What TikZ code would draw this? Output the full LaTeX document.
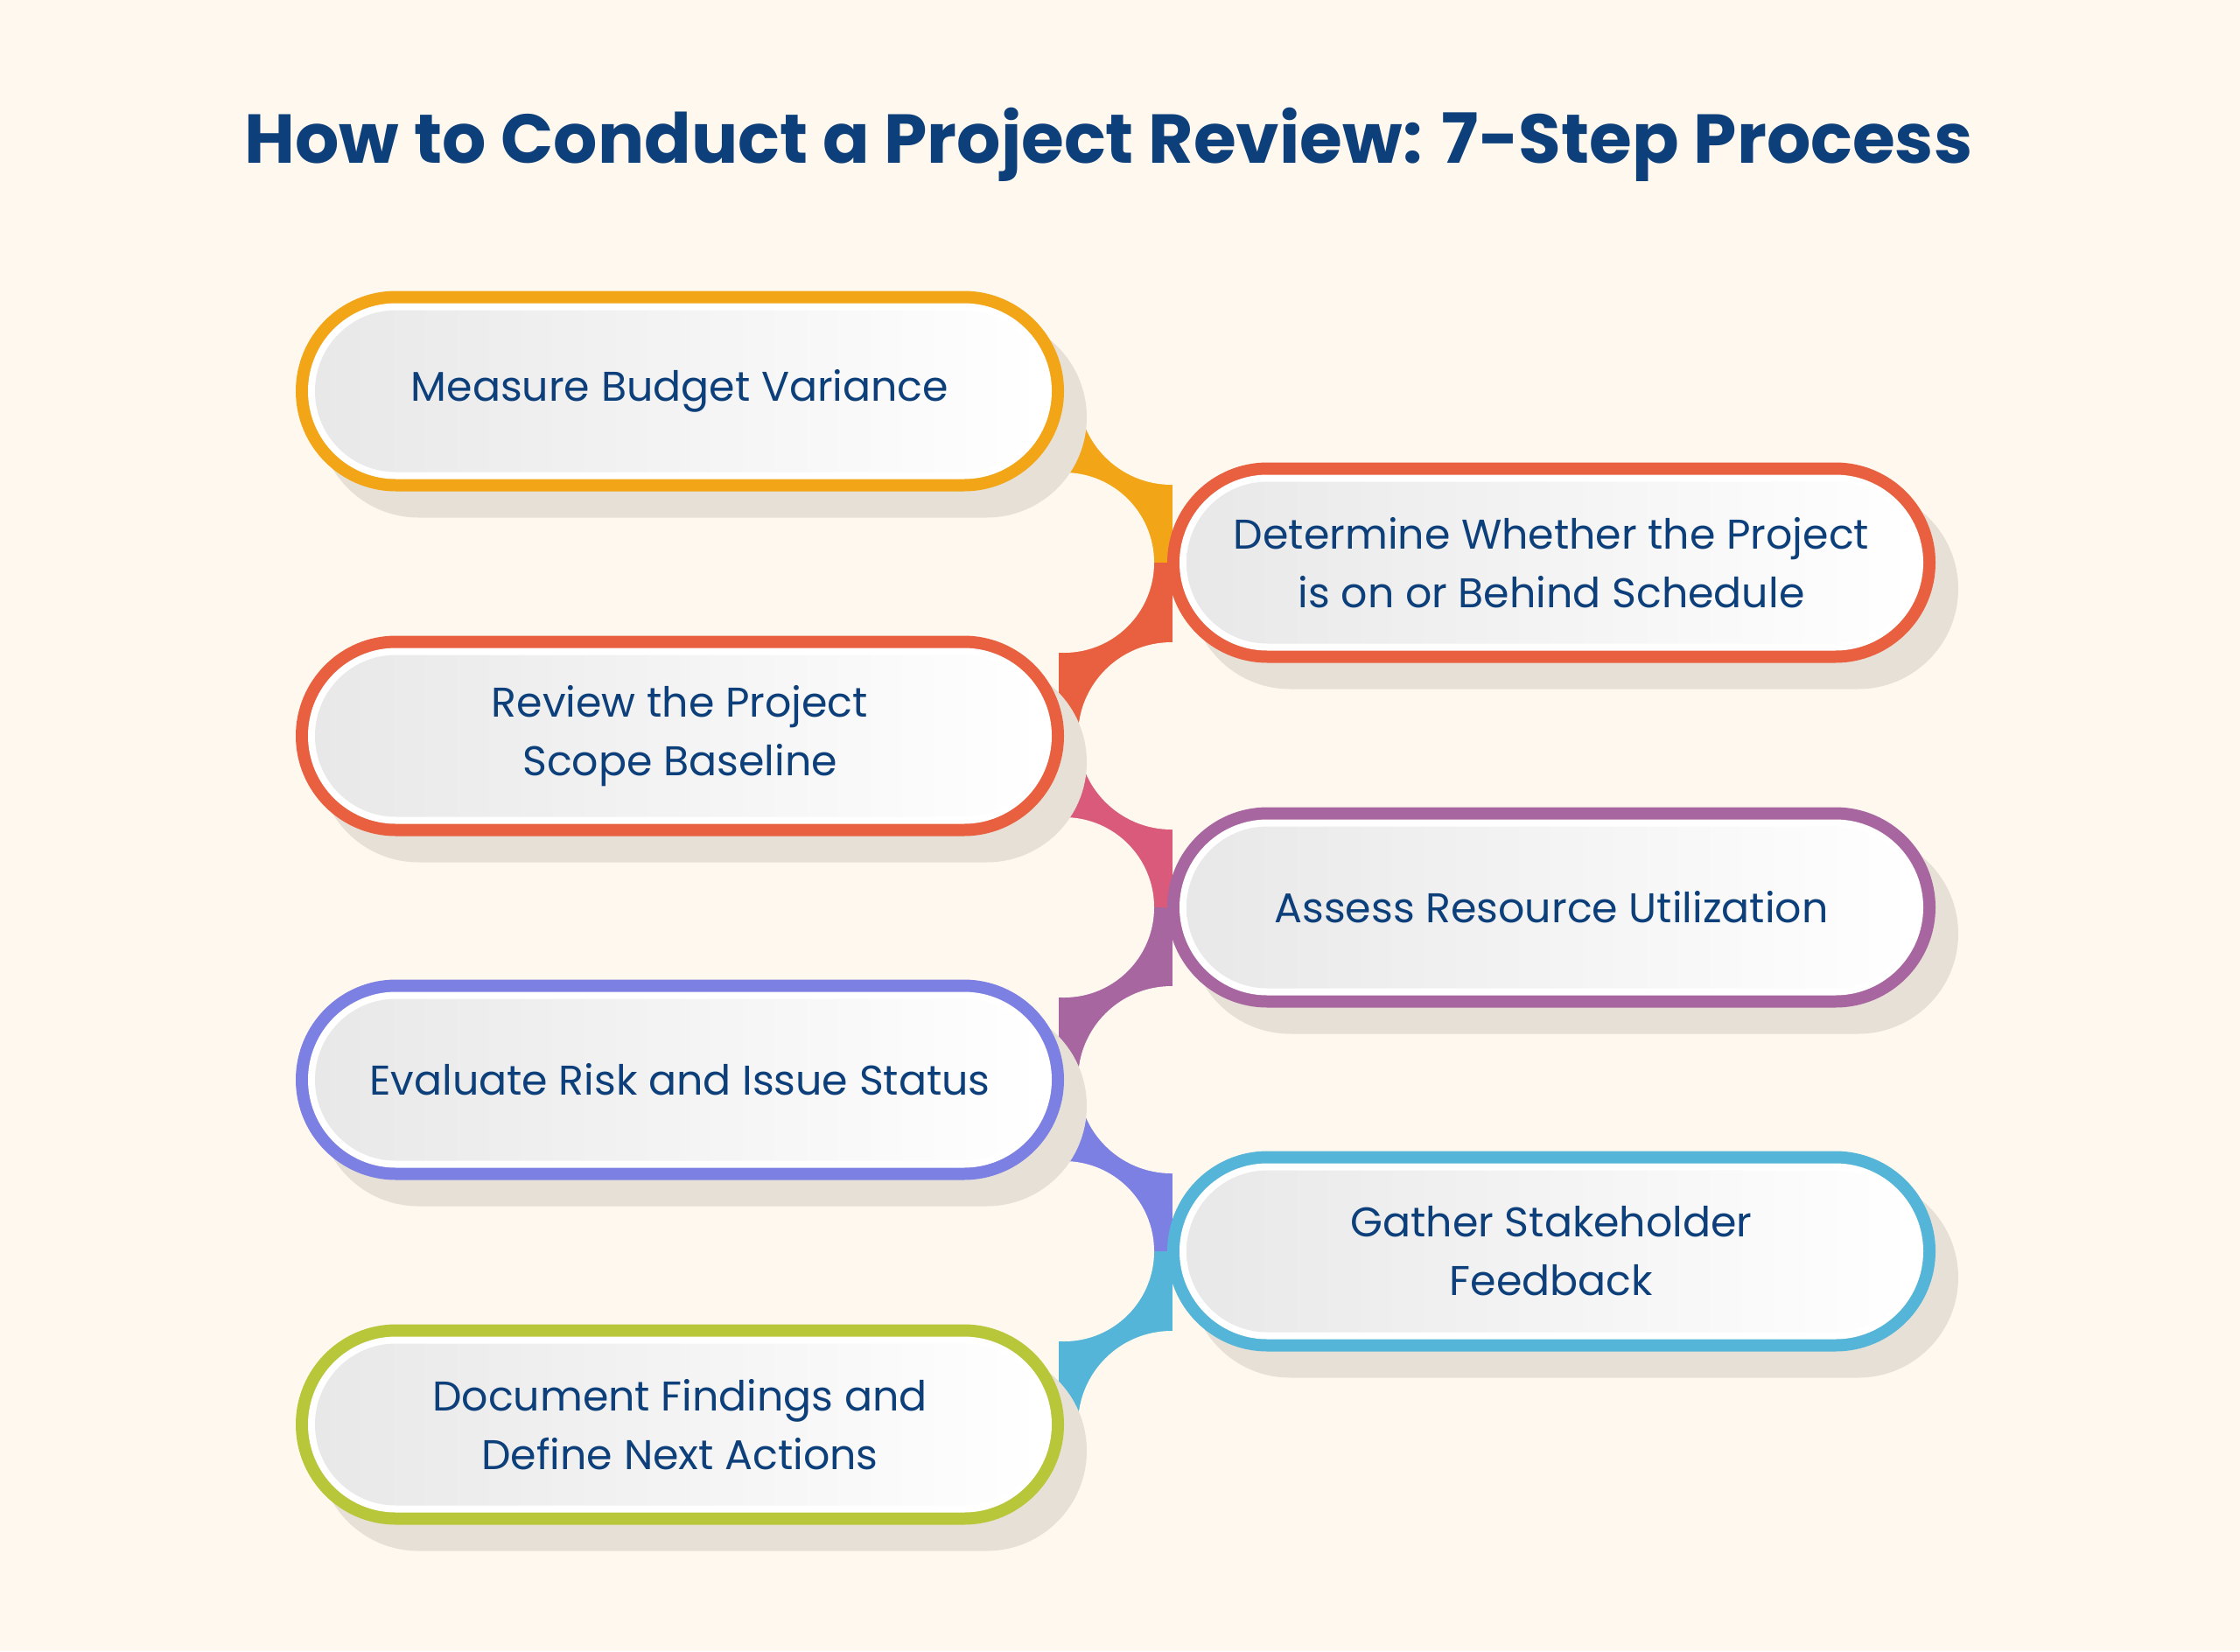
\documentclass[tikz,border=0pt]{standalone}
\usepackage{fontspec}
\setmainfont{Poppins}
\usetikzlibrary{shapes.misc}
\definecolor{bg}{HTML}{FFF8EE}
\definecolor{navy}{HTML}{0D3F7A}
\definecolor{cOrange}{HTML}{F2A516}
\definecolor{cRed}{HTML}{E8603F}
\definecolor{cPink}{HTML}{D95A7A}
\definecolor{cPurple}{HTML}{A866A0}
\definecolor{cViolet}{HTML}{7C80E2}
\definecolor{cTeal}{HTML}{55B5D8}
\definecolor{cLime}{HTML}{B8C63A}
\definecolor{shade}{HTML}{E6E0D6}

\tikzset{
  pill/.style={rounded rectangle, minimum width=8.78cm, minimum height=2.29cm, inner sep=0pt},
  ring/.style={pill, fill=#1},
  inner/.style={rounded rectangle, minimum width=8.50cm, minimum height=2.01cm, fill=white, inner sep=0pt},
  face/.style={rounded rectangle, minimum width=8.34cm, minimum height=1.85cm, inner sep=0pt,
    left color=gray!18, right color=white,
    font=\fontsize{13.5}{19}\selectfont, text=navy, align=center},
}

% one step: name, x, y, colour, text
\newcommand{\step}[5]{%
  \node[pill, fill=shade] at ([shift={(0.26,-0.3)}]#2,#3) {};
  \node[ring=#4] (#1) at (#2,#3) {};
  \node[inner] at (#1) {};
  \node[face] (#1-t) at (#1) {#5};
}

\begin{document}
\begin{tikzpicture}
  \useasboundingbox[fill=bg] (0,0) rectangle (25.6,-18.87);

  % title
  \node[font=\fontsize{22.5}{28}\selectfont\bfseries, text=navy] (title) at (12.67,-1.65)
    {How to Conduct a Project Review: 7-Step Process};

  % connector band
  \fill[cOrange] (12.1,-4.47) rectangle (13.4,-6.43);
  \fill[cRed]    (12.1,-6.43) rectangle (13.4,-8.41);
  \fill[cPink]   (12.1,-8.41) rectangle (13.4,-10.37);
  \fill[cPurple] (12.1,-10.37) rectangle (13.4,-12.34);
  \fill[cViolet] (12.1,-12.34) rectangle (13.4,-14.30);
  \fill[cTeal]   (12.1,-14.30) rectangle (13.4,-16.28);
  \foreach \y in {-6.43,-10.37,-14.30} \fill[bg] (12.16,\y) circle (1.03);
  \foreach \y in {-4.47,-8.41,-12.34,-16.28} \fill[bg] (13.39,\y) circle (1.07);

  % steps
  \step{s1}{7.77}{-4.47}{cOrange}{Measure Budget Variance}
  \step{s2}{17.73}{-6.43}{cRed}{Determine Whether the Project\\is on or Behind Schedule}
  \step{s3}{7.77}{-8.41}{cRed}{Review the Project\\Scope Baseline}
  \step{s4}{17.73}{-10.37}{cPurple}{Assess Resource Utilization}
  \step{s5}{7.77}{-12.34}{cViolet}{Evaluate Risk and Issue Status}
  \step{s6}{17.73}{-14.30}{cTeal}{Gather Stakeholder\\Feedback}
  \step{s7}{7.77}{-16.28}{cLime}{Document Findings and\\Define Next Actions}
\end{tikzpicture}
\end{document}
